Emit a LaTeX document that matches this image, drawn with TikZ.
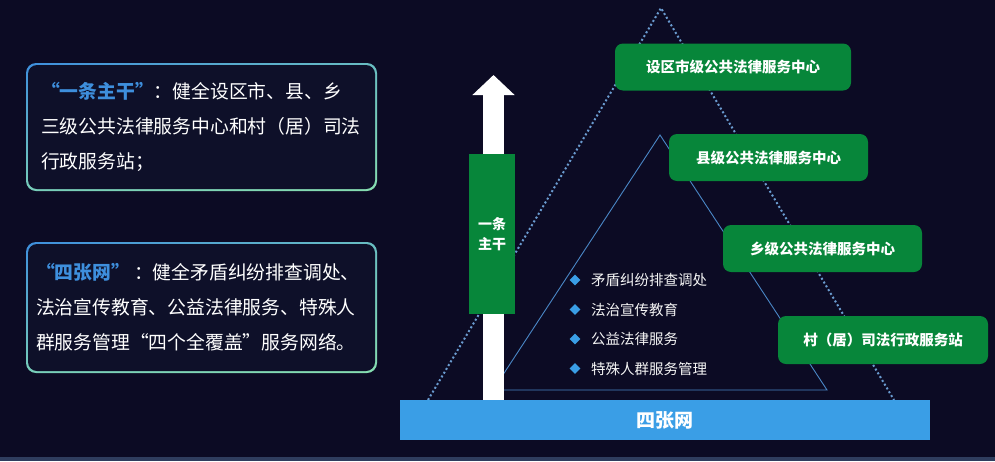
\documentclass[tikz,border=0pt]{standalone}
\usepackage{fontspec}
\setmainfont{Noto Sans CJK SC}
\usetikzlibrary{arrows.meta,shapes.geometric,shadings}
\definecolor{bgnavy}{HTML}{0C0B24}
\definecolor{boxfill}{HTML}{0E1029}
\definecolor{lawgreen}{HTML}{07863A}
\definecolor{netblue}{HTML}{3A9EE6}
\definecolor{titleblue}{HTML}{3E8FDD}
\definecolor{dotblue}{HTML}{6A9BD0}
\definecolor{lineblue}{HTML}{4A87C6}
\definecolor{edgegreen}{HTML}{86DDB0}
\definecolor{stripgray}{HTML}{2F3D5E}
\tikzset{level/.style={fill=lawgreen, rounded corners=8pt, text=white, font=\fontsize{14.5}{17}\selectfont\bfseries, inner sep=0pt}}
\tikzset{item/.style={anchor=west, text=white!92!gray, font=\fontsize{14.5}{17}\selectfont, inner sep=0pt}}
\tikzset{bullet/.style={diamond, fill=netblue, inner sep=0pt, minimum size=11pt}}
\tikzset{panel/.style={fill=boxfill, rounded corners=9pt, minimum width=347pt, align=left, text=white, font=\fontsize{18.8}{35}\selectfont, inner sep=0pt}}
\tikzset{frame/.style={rounded corners=10pt, upper left=titleblue, upper right=edgegreen!60!titleblue, lower left=edgegreen!80!titleblue, lower right=edgegreen}}

\begin{document}
\begin{tikzpicture}[x=1pt, y=-1pt]
  \useasboundingbox (0,0) rectangle (995,461);
  \fill[bgnavy] (0,0) rectangle (995,461);
  \fill[stripgray] (0,457) rectangle (995,461);

  % pyramid outlines
  \coordinate (apex) at (661,8);
  \coordinate (outl) at (428,400);
  \coordinate (outr) at (894,400);
  \draw[dotblue, line width=2pt, dash pattern=on 2pt off 2.4pt] (outl) -- (apex) -- (outr);

  \coordinate (top) at (660,135);
  \coordinate (inl) at (493,390);
  \coordinate (inr) at (827,390);
  \draw[lineblue, line width=0.9pt] (top) -- (inl) -- (inr) -- cycle;

  % the trunk arrow
  \coordinate (foot) at (493.5,400);
  \coordinate (tip) at (493.5,75);
  \draw[white, line width=21pt, -{Triangle[width=41pt,length=20pt]}] (foot) -- (tip);

  \node[fill=lawgreen, minimum width=46pt, minimum height=160pt, inner sep=0pt, text=white,
        align=center, font=\fontsize{14}{20}\selectfont\bfseries] (trunk) at (492,234) {一条\\主干};

  \node[fill=netblue, minimum width=530pt, minimum height=40pt, inner sep=0pt, text=white,
        font=\fontsize{19}{22}\selectfont\bfseries] (net) at (665,420) {四张网};

  % levels
  \node[level, minimum width=236pt, minimum height=47pt] (city) at (733,67) {设区市级公共法律服务中心};
  \node[level, minimum width=199pt, minimum height=47pt] (county) at (768.5,157.5) {县级公共法律服务中心};
  \node[level, minimum width=199pt, minimum height=47pt] (town) at (822.5,248.5) {乡级公共法律服务中心};
  \node[level, minimum width=210pt, minimum height=48pt] (village) at (883,340) {村（居）司法行政服务站};

  % four networks
  \node[bullet] (b1) at (575,280) {};
  \node[bullet] (b2) at (575,309.5) {};
  \node[bullet] (b3) at (575,339) {};
  \node[bullet] (b4) at (575,368.5) {};
  \node[item] (i1) at (591,280) {矛盾纠纷排查调处};
  \node[item] (i2) at (591,309.5) {法治宣传教育};
  \node[item] (i3) at (591,339) {公益法律服务};
  \node[item] (i4) at (591,368.5) {特殊人群服务管理};

  % left panels
  \shade[frame] (26,63) rectangle (377,191);
  \node[panel, text width=321pt, minimum height=124pt] (p1) at (201.5,127)
    {{\color{titleblue}\bfseries “一条主干”}：健全设区市、县、乡\\三级公共法律服务中心和村（居）司法\\行政服务站；};

  \shade[frame] (26,242) rectangle (377,373);
  \node[panel, text width=331pt, minimum height=127pt] (p2) at (201.5,307.5)
    {{\color{titleblue}\bfseries “四张网”}\kern4pt：健全矛盾纠纷排查调处、\\法治宣传教育、公益法律服务、特殊人\\群服务管理“四个全覆盖”服务网络。};
\end{tikzpicture}
\end{document}
